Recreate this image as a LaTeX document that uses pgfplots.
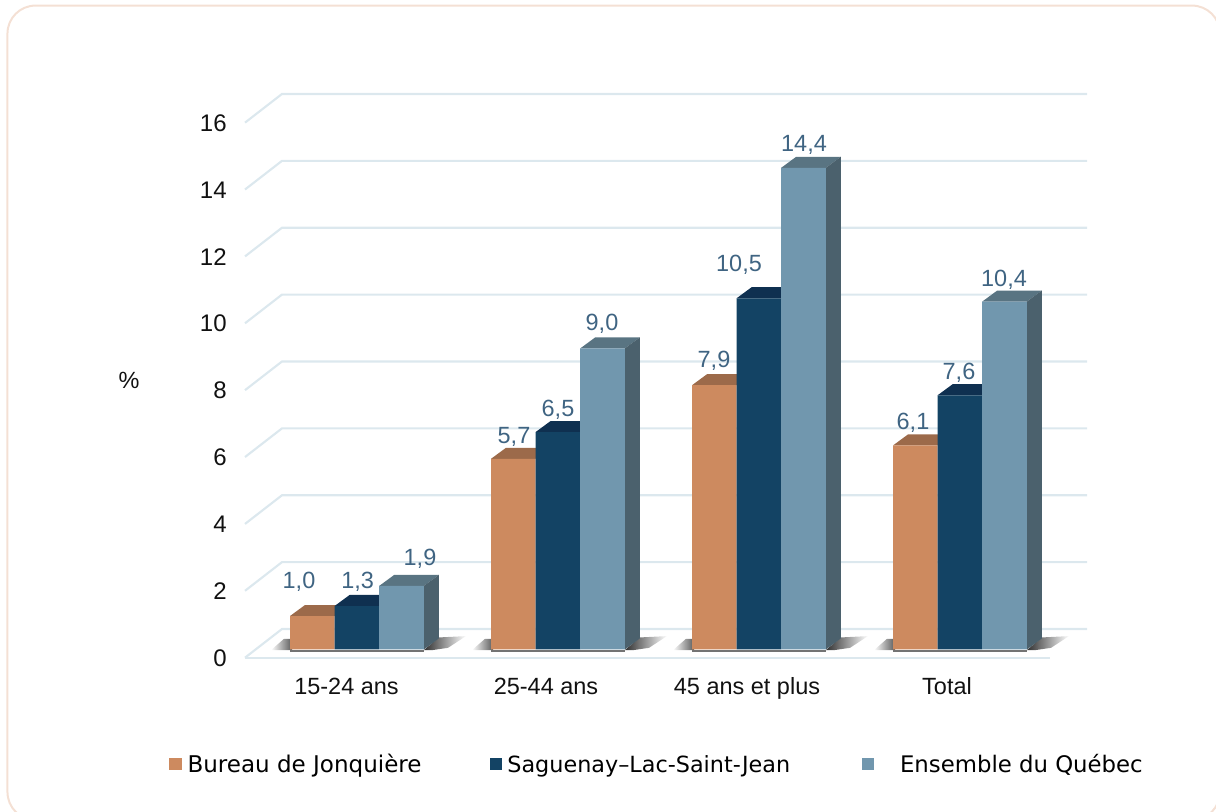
\documentclass[border=0pt]{standalone}
\usepackage{fontspec}
\usepackage{graphicx}
\usepackage{pgfplots}
\pgfplotsset{compat=1.18}
\setmainfont{Liberation Sans}
\newfontfamily\lf{DejaVu Sans}
\definecolor{co}{HTML}{CD8A5F}\definecolor{cot}{HTML}{9C6A4A}
\definecolor{cn}{HTML}{134364}\definecolor{cnt}{HTML}{0F3050}
\definecolor{cb}{HTML}{7197AE}\definecolor{cbt}{HTML}{597482}\definecolor{cbs}{HTML}{4B616D}
\definecolor{lab}{HTML}{3F6482}\definecolor{gridc}{HTML}{DCE8EE}\definecolor{bord}{HTML}{F4E0D4}
\definecolor{shad}{HTML}{303030}\definecolor{txt}{HTML}{111111}
\newcommand\cf{\fontsize{17.6}{20}\selectfont}
\newcommand\tf{\fontsize{18}{20}\selectfont}
\pgfplotsset{common/.style={scale only axis,width=912pt,height=609pt,at={(0pt,0pt)},anchor=south west,
  xmin=0,xmax=1216,clip=false,axis line style={draw=none},tick style={draw=none}},
  gl/.style={no markers,draw=gridc,line width=1.6pt,forget plot},
  sl/.style={draw=none,no markers,left color=white,right color=shad!80!white},
  sr/.style={draw=none,no markers,left color=shad,middle color=shad!70!white,right color=white},
  bl/.style={draw=black!55,line width=1.4pt,no markers}}
\begin{document}
\begin{tikzpicture}
\path[use as bounding box] (0pt,0pt) rectangle (912pt,609pt);
\begin{scope}
\clip (0pt,0pt) rectangle (912pt,609pt);
\draw[bord,line width=1.5pt,rounded corners=21pt] (5.6pt,-6pt) rectangle (915pt,604.8pt);
\end{scope}
% frame axis: grid, tick labels, category labels
\begin{axis}[common,ymin=-4.6142,ymax=19.668,
  ytick={0,2,4,6,8,10,12,14,16},
  xtick={346.5,546,747,947},
  xticklabels={15-24 ans,25-44 ans,45 ans et plus,Total},
  /pgf/number format/assume math mode=true,
  yticklabel style={font=\tf,text=txt,anchor=east,xshift=173.5pt,yshift=-0.2pt},
  xticklabel style={font=\cf,text=txt,anchor=base,yshift=88pt},
  ylabel={\%},
  every axis y label/.style={at={(axis cs:129,8.3)},anchor=center,font=\cf,text=txt}]
\addplot[gl] coordinates {(245,0)(1050,0)};
\addplot[gl] coordinates {(245,0)(282,0.858)(1087,0.858)};
\addplot[gl] coordinates {(245,2)(282,2.858)(1087,2.858)};
\addplot[gl] coordinates {(245,4)(282,4.858)(1087,4.858)};
\addplot[gl] coordinates {(245,6)(282,6.858)(1087,6.858)};
\addplot[gl] coordinates {(245,8)(282,8.858)(1087,8.858)};
\addplot[gl] coordinates {(245,10)(282,10.858)(1087,10.858)};
\addplot[gl] coordinates {(245,12)(282,12.858)(1087,12.858)};
\addplot[gl] coordinates {(245,14)(282,14.858)(1087,14.858)};
\addplot[gl] coordinates {(245,16)(282,16.858)(1087,16.858)};
\end{axis}
% bars axis
\begin{axis}[common,ymin=-4.858,ymax=19.417,xtick=\empty,ytick=\empty,
  legend columns=3,
  legend style={at={(axis cs:169,-3.42)},anchor=west,draw=none,fill=none,inner sep=0pt,outer sep=0pt,
    nodes={inner sep=0pt,outer sep=0pt},/tikz/column sep=0pt},
  legend cell align=left,
  legend image code/.code={\fill[#1] (0pt,-4.7pt) rectangle (9.4pt,4.7pt);}]
\addlegendimage{co}\addlegendentry{\makebox[231pt][l]{\hspace{4.5pt}\resizebox{175.5pt}{!}{\lf Bureau de Jonquière}}}
\addlegendimage{cn}\addlegendentry{\makebox[269.6pt][l]{\hspace{4pt}\raisebox{-1.2pt}{\resizebox{212pt}{!}{\lf Saguenay–Lac-Saint-Jean}}}}
\addlegendimage{cb}\addlegendentry{\hspace{19.5pt}\resizebox{182pt}{!}{\lf Ensemble du Québec}}
\pgfplotsset{every axis plot/.append style={draw=none,forget plot}}
% shadows
\addplot[sl] coordinates {(271,-0.02)(284,0.32)(292,0.32)(292,-0.02)} -- cycle;
\addplot[sr] coordinates {(423.8,-0.02)(438.8,0.36)(466,0.40)(448,0.05)(432,-0.02)} -- cycle;
\addplot[sl] coordinates {(472,-0.02)(485,0.32)(493,0.32)(493,-0.02)} -- cycle;
\addplot[sr] coordinates {(624.8,-0.02)(639.8,0.36)(667,0.40)(649,0.05)(633,-0.02)} -- cycle;
\addplot[sl] coordinates {(673,-0.02)(686,0.32)(694,0.32)(694,-0.02)} -- cycle;
\addplot[sr] coordinates {(825.8,-0.02)(840.8,0.36)(868,0.40)(850,0.05)(834,-0.02)} -- cycle;
\addplot[sl] coordinates {(874,-0.02)(887,0.32)(895,0.32)(895,-0.02)} -- cycle;
\addplot[sr] coordinates {(1026.8,-0.02)(1041.8,0.36)(1069,0.40)(1051,0.05)(1035,-0.02)} -- cycle;
\addplot[bl] coordinates {(290,-0.04)(424,-0.04)};
\addplot[bl] coordinates {(491,-0.04)(625,-0.04)};
\addplot[bl] coordinates {(692,-0.04)(826,-0.04)};
\addplot[bl] coordinates {(893,-0.04)(1027,-0.04)};
\pgfplotsset{bf/.style={ybar,bar shift=0pt,bar width=33.45pt,draw=none}}
% orange tops and fronts
\addplot[fill=cot] coordinates {(290,1.0)(305,1.33)(349.6,1.33)(334.6,1.0)} -- cycle;
\addplot[fill=cot] coordinates {(491,5.7)(506,6.03)(550.6,6.03)(535.6,5.7)} -- cycle;
\addplot[fill=cot] coordinates {(692,7.9)(707,8.23)(751.6,8.23)(736.6,7.9)} -- cycle;
\addplot[fill=cot] coordinates {(893,6.1)(908,6.43)(952.6,6.43)(937.6,6.1)} -- cycle;
\addplot[bf,fill=co] coordinates {(312.3,1.0)(513.3,5.7)(714.3,7.9)(915.3,6.1)};
% navy tops and fronts
\addplot[fill=cnt] coordinates {(334.6,1.3)(349.6,1.63)(394.2,1.63)(379.2,1.3)} -- cycle;
\addplot[fill=cnt] coordinates {(535.6,6.5)(550.6,6.83)(595.2,6.83)(580.2,6.5)} -- cycle;
\addplot[fill=cnt] coordinates {(736.6,10.5)(751.6,10.83)(796.2,10.83)(781.2,10.5)} -- cycle;
\addplot[fill=cnt] coordinates {(937.6,7.6)(952.6,7.93)(997.2,7.93)(982.2,7.6)} -- cycle;
\addplot[bf,fill=cn] coordinates {(356.9,1.3)(557.9,6.5)(758.9,10.5)(959.9,7.6)};
% light blue tops, sides and fronts
\addplot[fill=cbt] coordinates {(379.2,1.9)(394.2,2.23)(438.8,2.23)(423.8,1.9)} -- cycle;
\addplot[fill=cbt] coordinates {(580.2,9.0)(595.2,9.33)(639.8,9.33)(624.8,9.0)} -- cycle;
\addplot[fill=cbt] coordinates {(781.2,14.4)(796.2,14.73)(840.8,14.73)(825.8,14.4)} -- cycle;
\addplot[fill=cbt] coordinates {(982.2,10.4)(997.2,10.73)(1041.8,10.73)(1026.8,10.4)} -- cycle;
\addplot[fill=cbs] coordinates {(423.8,0)(438.8,0.33)(438.8,2.23)(423.8,1.9)} -- cycle;
\addplot[fill=cbs] coordinates {(624.8,0)(639.8,0.33)(639.8,9.33)(624.8,9.0)} -- cycle;
\addplot[fill=cbs] coordinates {(825.8,0)(840.8,0.33)(840.8,14.73)(825.8,14.4)} -- cycle;
\addplot[fill=cbs] coordinates {(1026.8,0)(1041.8,0.33)(1041.8,10.73)(1026.8,10.4)} -- cycle;
\addplot[bf,fill=cb] coordinates {(401.5,1.9)(602.5,9.0)(803.5,14.4)(1004.5,10.4)};
% value labels
\tikzset{vl/.style={font=\cf,text=lab,inner sep=0pt,anchor=center,yshift=-1.2pt}}
\node[vl] at (axis cs:299,2.078) {1,0};
\node[vl] at (axis cs:357.7,2.078) {1,3};
\node[vl] at (axis cs:420,2.765) {1,9};
\node[vl] at (axis cs:514,6.413) {5,7};
\node[vl] at (axis cs:558,7.22) {6,5};
\node[vl] at (axis cs:602,9.79) {9,0};
\node[vl] at (axis cs:714,8.685) {7,9};
\node[vl] at (axis cs:739,11.555) {10,5};
\node[vl] at (axis cs:804,15.14) {14,4};
\node[vl] at (axis cs:913,6.83) {6,1};
\node[vl] at (axis cs:959,8.326) {7,6};
\node[vl] at (axis cs:1004,11.106) {10,4};
\end{axis}
\end{tikzpicture}
\end{document}
